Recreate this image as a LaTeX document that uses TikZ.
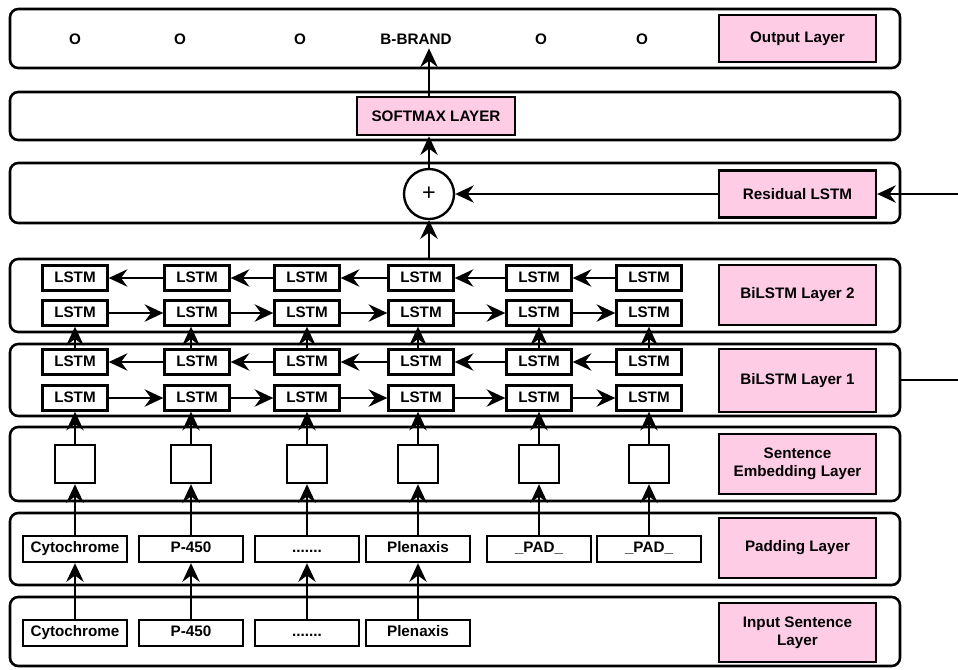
\documentclass[tikz,border=0pt]{standalone}
\usepackage{fontspec}
\setmainfont{Liberation Sans}
\usetikzlibrary{arrows.meta, positioning, calc}
\definecolor{tagpink}{RGB}{255,204,230}
\newcommand{\wdots}{.......}

\begin{document}
\begin{tikzpicture}[x=0.3mm, y=-0.3mm,
        >={Stealth[length=5.6mm,width=5.2mm,inset=1.9mm]},
        every node/.style={font=\bfseries\fontsize{13}{15}\selectfont},
        layer/.style={draw,line width=2.2pt,rounded corners=2.5mm,
        minimum width=267mm,inner sep=0pt},
        tag/.style={draw,line width=2.2pt,fill=tagpink,align=center,
        minimum width=47mm,minimum height=18mm,inner sep=0pt},
        lstm/.style={draw,line width=2pt,minimum width=19.5mm,minimum height=7.5mm,inner sep=0pt,
        text height=1.7ex,text depth=0.3ex},
        word/.style={draw,line width=2pt,minimum width=31.2mm,minimum height=7.8mm,inner sep=0pt,
        text height=1.7ex,text depth=0.5ex},
        emb/.style={draw,line width=2pt,minimum width=12mm,minimum height=11.4mm,inner sep=0pt},
        link/.style={->,line width=2pt}]
      \useasboundingbox (0,0) rectangle (958,669);
      % layer frames
      \node[layer,minimum height=17.7mm] (outL) at (455,38.5) {};
      \node[layer,minimum height=14.4mm] (smL) at (455,116) {};
      \node[layer,minimum height=18mm] (resL) at (455,193) {};
      \node[layer,minimum height=21.9mm] (bi2L) at (455,295.5) {};
      \node[layer,minimum height=21.6mm] (bi1L) at (455,380) {};
      \node[layer,minimum height=22.2mm] (embL) at (455,464) {};
      \node[layer,minimum height=21.6mm] (padL) at (455,549) {};
      \node[layer,minimum height=20.7mm] (inL) at (455,631.5) {};
      % layer names
      \node[tag,minimum height=14.1mm] (outT) at (797.5,38.5) {Output Layer};
      \node[tag,minimum height=14.1mm] (resT) at (797.5,194) {Residual LSTM};
      \node[tag] (bi2T) at (797.5,295) {BiLSTM Layer 2};
      \node[tag,minimum height=18.9mm] (bi1T) at (797.5,380.5) {BiLSTM Layer 1};
      \node[tag] (embT) at (797.5,464) {Sentence\\Embedding Layer};
      \node[tag] (padT) at (797.5,548) {Padding Layer};
      \node[tag,minimum height=17.7mm] (inT) at (797.5,632.5) {Input Sentence\\Layer};
      % output tags
      \node (o1) at (75,39) {O};
      \node (o2) at (180,39) {O};
      \node (o3) at (300,39) {O};
      \node (bb) at (416,39) {B-BRAND};
      \node (o5) at (541,39) {O};
      \node (o6) at (642,39) {O};
      \node[tag,minimum width=47.4mm,minimum height=11.4mm] (soft) at (436,116) {SOFTMAX LAYER};
      \node[circle,draw,line width=2pt,minimum size=15mm,inner sep=0pt,
        font=\fontsize{20}{20}\selectfont] (plus) at (429,194) {+};
      % columns
      \foreach \i/\lx/\cx/\w in {1/75/75/Cytochrome, 2/197/191/P-450, 3/307/307/\wdots,
          4/421/418/Plenaxis, 5/539/539/\_PAD\_, 6/649/649/\_PAD\_} {
        \node[lstm] (b2\i) at (\lx,278) {LSTM};
        \node[lstm] (f2\i) at (\lx,313) {LSTM};
        \node[lstm] (b1\i) at (\lx,362) {LSTM};
        \node[lstm] (f1\i) at (\lx,398) {LSTM};
        \node[emb] (e\i) at (\cx,464) {};
        \node[word] (p\i) at (\cx,549) {\w};
      }
      \foreach \i/\x/\w in {1/75/Cytochrome, 2/191/P-450, 3/307/\wdots, 4/418/Plenaxis} {
        \node[word] (w\i) at (\x,633) {\w};
        \draw[link] (w\i.north) -- (p\i.south);
      }
      \foreach \i in {1,...,6} {
        \draw[link] (p\i.north) -- (e\i.south);
        \draw[link] (e\i.north) -- (e\i.north |- f1\i.south);
        \draw[link] (e\i.north |- b1\i.north) -- (e\i.north |- f2\i.south);
      }
      \foreach \i [count=\j from 2] in {1,...,5} {
        \draw[link] (f1\i.east) -- (f1\j.west);
        \draw[link] (f2\i.east) -- (f2\j.west);
        \draw[link] (b1\j.west) -- (b1\i.east);
        \draw[link] (b2\j.west) -- (b2\i.east);
      }
      % residual path
      \coordinate (resIn) at (958,194);
      \coordinate (bi1Out) at (958,380);
      \draw[line width=2pt] (bi1L.east) -- (bi1Out);
      \draw[link] (resIn) -- (resT.east);
      \draw[link] (resT.west) -- (plus.east);
      \draw[link] (bi2L.north -| plus) -- (plus.south);
      \draw[link] (plus.north) -- (plus.north |- soft.south);
      \draw[link] (plus.north |- soft.north) -- (plus.north |- bb.south);
    \end{tikzpicture}
\end{document}
